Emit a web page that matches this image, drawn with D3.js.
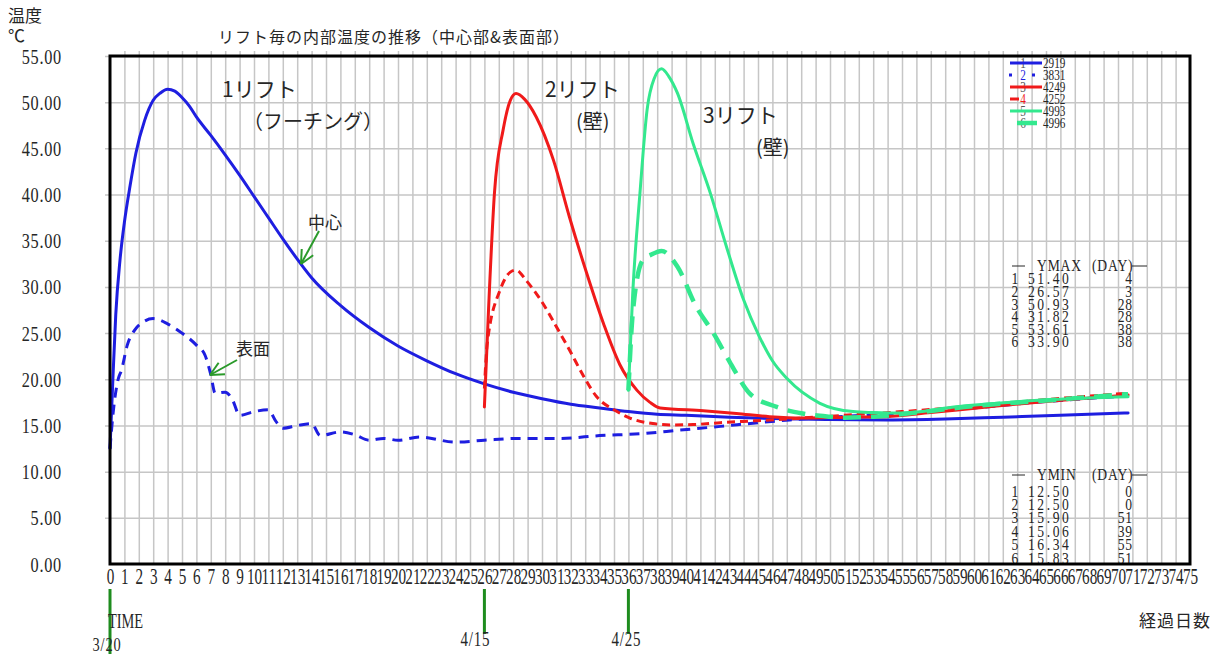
<!DOCTYPE html>
<html><head><meta charset="utf-8">
<script src="https://cdn.jsdelivr.net/npm/d3@7"></script>
<style>body{margin:0;background:#fff;} svg{display:block;}</style>
</head><body>
<svg id="chart" width="1228" height="657"></svg>
<script>
// ---------------- data ----------------
const seriesIds = ["2919","3831","4249","4252","4993","4996"];

// 1 (2919) lift-1 centre
const s1Days  = [0,0.2,0.4,0.7,1.0,1.4,1.8,2.4,3.0,3.5,4.0,4.5,5.0,5.5,6,7,8,9,10,11,12,13.2,14,16,18,20,22,24,26,28,30,32,34,36,38,40,43,46,50,54,58,62,66,70.7];
const s1Temps = [12.5,20,27,33,37,41,44.5,48,50.2,51.0,51.4,51.2,50.5,49.6,48.4,46.4,44.3,42.1,39.8,37.5,35.2,32.6,31.0,28,25.6,23.6,22,20.6,19.5,18.6,17.9,17.3,16.9,16.5,16.2,16.1,15.9,15.75,15.65,15.6,15.7,15.9,16.1,16.35];
// 2 (3831) lift-1 surface
const s2Days  = [0,0.2,0.55,0.8,1.2,1.7,2.3,3,4,5,6,6.6,7,7.3,8,8.5,9,10,11,11.5,12,13,14,14.6,16,17,18,19,20,21.5,24,26,28.5,31.25,34,36.8,39.6,42.4,45,47.2,50,55,60,65,70.7];
const s2Temps = [12.5,16.1,19.9,21,23.7,25.3,26.2,26.57,26,25,23.7,22.6,20.5,18.5,18.6,17.8,16.1,16.5,16.7,15.5,14.7,15.0,15.2,13.9,14.3,14.0,13.4,13.6,13.4,13.75,13.2,13.4,13.6,13.6,13.9,14.1,14.5,14.9,15.3,15.6,15.9,16.3,16.9,17.6,18.2];
// 3 (4249) lift-2 centre
const s3Days  = [26,26.3,26.7,27.3,27.8,28.2,28.8,29.6,30.8,31.9,33.1,34.3,35.4,36.6,37.5,38.2,41.2,43.5,45.8,48.1,51,53.9,57,60.9,65,70.7];
const s3Temps = [17.0,28,40.2,47,50.2,50.93,50.3,48.4,43.7,37.6,31.5,25.9,21.6,18.8,17.5,16.9,16.6,16.3,15.95,15.8,15.9,15.95,16.4,17.0,17.6,18.3];
// 4 (4252) lift-2 surface
const s4Days  = [26,26.2,27.1,27.8,28.2,28.9,29.9,31.25,31.9,32.9,33.8,35,36.1,37.7,39,40.5,42.4,44.7,47,50,55,60,65,70.7];
const s4Temps = [19,23.9,29.7,31.6,31.82,30.7,28.6,25,23.2,20.3,18.1,16.7,15.8,15.2,15.06,15.1,15.3,15.5,15.7,16.0,16.5,17.1,17.8,18.5];
// 5 (4993) lift-3 centre
const s5Days  = [36,36.3,36.8,37.3,37.8,38.3,38.8,39.4,40.5,41.7,42.8,44,45.1,46,47,49.3,51.6,53,55,58.6,65.5,70.7];
const s5Temps = [18.8,29.3,40.1,49.2,52.6,53.61,52.8,51,45.5,40.1,34.4,28.6,24.6,22.0,20.1,17.4,16.5,16.4,16.34,17.0,17.8,18.1];
// 6 (4996) lift-3 surface
const s6Days  = [36,36.3,37,37.6,38.3,39.4,40.7,41.9,43.1,44.4,46.3,48.1,50,51,53,56,60,65,70.7];
const s6Temps = [18.8,27.1,32.9,33.5,33.9,32.2,27.9,25,21.7,18.5,17.0,16.3,15.95,15.83,15.95,16.4,17.1,17.7,18.4];

const ymaxTemps = ["51.40","26.57","50.93","31.82","53.61","33.90"];
const ymaxDays  = ["4","3","28","28","38","38"];
const yminTemps = ["12.50","12.50","15.90","15.06","16.34","15.83"];
const yminDays  = ["0","0","51","39","55","51"];

const dayTicks  = d3.range(0, 76);
const tempTicks = d3.range(0, 56, 5);
const markDays   = [0, 26, 36];
const markLabels = ["3/20", "4/15", "4/25"];

// ---------------- drawing ----------------
const svg = d3.select("#chart");
const X0 = 110, X1 = 1190, Y0 = 564, Y1 = 56;
const x = d3.scaleLinear().domain([0, 75]).range([X0, X1]);
const y = d3.scaleLinear().domain([0, 55]).range([Y0, Y1]);
const SERIF = "'Liberation Serif','DejaVu Serif',serif";
const JP = "'Noto Sans CJK JP','Noto Sans',sans-serif";
const INK = "#262626";

function ntext(parent, px, py, str, size, anchor, sx, ls, fill) {
  const g = parent.append("g").attr("transform", `translate(${px},${py}) scale(${sx},1)`);
  g.append("text").attr("text-anchor", anchor).attr("font-family", SERIF)
    .attr("font-size", size).attr("fill", fill || INK).attr("letter-spacing", ls || 0).text(str);
  return g;
}
function jtext(px, py, str, size, anchor) {
  return svg.append("text").attr("x", px).attr("y", py).attr("font-family", JP)
    .attr("font-size", size).attr("fill", INK).attr("text-anchor", anchor || "start").text(str);
}

// grid
const gridColor = "#c6c6c6";
svg.append("g").attr("transform", `translate(0,${Y0})`)
  .call(d3.axisBottom(x).tickValues(dayTicks.filter(d => d > 0 && d < 75)).tickSize(-(Y0 - Y1 + 5)).tickFormat(""))
  .call(g => g.select(".domain").remove())
  .selectAll("line").attr("stroke", gridColor).attr("stroke-width", 1.5);
svg.append("g").attr("transform", `translate(${X0 - 5},0)`)
  .call(d3.axisRight(y).tickValues(tempTicks.filter(t => t > 0)).tickSize(X1 - X0 + 5).tickFormat(""))
  .call(g => g.select(".domain").remove())
  .selectAll("line").attr("stroke", gridColor).attr("stroke-width", 1.5);

// y tick labels
const yAx = svg.append("g").attr("transform", "translate(62,0)")
  .call(d3.axisLeft(y).tickValues(tempTicks).tickSize(0).tickPadding(0).tickFormat(d3.format(".2f")));
yAx.select(".domain").remove();
yAx.selectAll("text").attr("font-family", SERIF).attr("font-size", 22).attr("fill", INK)
  .attr("dy", 7).attr("letter-spacing", 1).attr("transform", "scale(0.74,1)");

// x tick labels
const xAx = svg.append("g").attr("transform", `translate(0,${Y0})`)
  .call(d3.axisBottom(x).tickValues(dayTicks).tickSize(0).tickPadding(0).tickFormat(d3.format("d")));
xAx.select(".domain").remove();
xAx.selectAll("text").attr("font-family", SERIF).attr("font-size", 23).attr("fill", INK)
  .attr("y", 20).attr("dy", 0).attr("transform", "scale(0.66,1)");

// tables
function table(headY, rowYs, vals, days, title) {
  svg.append("line").attr("x1", 1012).attr("x2", 1025).attr("y1", headY - 5).attr("y2", headY - 5).attr("stroke", INK).attr("stroke-width", 1);
  ntext(svg, 1037, headY, title, 16, "start", 0.85, 1);
  ntext(svg, 1092, headY, "(DAY)", 16, "start", 0.85, 1);
  svg.append("line").attr("x1", 1132).attr("x2", 1147).attr("y1", headY - 5).attr("y2", headY - 5).attr("stroke", INK).attr("stroke-width", 1);
  vals.forEach((v, i) => {
    ntext(svg, 1015, rowYs[i], String(i + 1), 16, "middle", 0.85);
    ntext(svg, 1028, rowYs[i], v, 16, "start", 0.85, 3);
    ntext(svg, 1133, rowYs[i], days[i], 16, "end", 0.85, 1);
  });
}
table(271, [284, 297, 310, 322, 335, 347], ymaxTemps, ymaxDays, "YMAX");
table(480, [497, 510, 523, 537, 550, 564], yminTemps, yminDays, "YMIN");

// series
const BLUE = "#1e1ee0", RED = "#f01a1a", GREEN = "#33e88e";
const series = [
  {id: seriesIds[0], days: s1Days, temps: s1Temps, color: BLUE,  width: 3,   dash: null,   lx1: 1010, lx2: 1042, ldash: null},
  {id: seriesIds[1], days: s2Days, temps: s2Temps, color: BLUE,  width: 3,   dash: "10,7", lx1: 1009, lx2: 1036, ldash: "3,20"},
  {id: seriesIds[2], days: s3Days, temps: s3Temps, color: RED,   width: 3,   dash: null,   lx1: 1010, lx2: 1042, ldash: null},
  {id: seriesIds[3], days: s4Days, temps: s4Temps, color: RED,   width: 3,   dash: "8,5",  lx1: 1010, lx2: 1019, ldash: null},
  {id: seriesIds[4], days: s5Days, temps: s5Temps, color: GREEN, width: 3,   dash: null,   lx1: 1010, lx2: 1042, ldash: null},
  {id: seriesIds[5], days: s6Days, temps: s6Temps, color: GREEN, width: 4.5, dash: "18,10",lx1: 1017, lx2: 1037, ldash: null}
];
const line = d3.line().x(d => x(d[0])).y(d => y(d[1])).curve(d3.curveMonotoneX);
series.forEach(s => {
  svg.append("path").datum(s.days.map((d, i) => [d, s.temps[i]]))
    .attr("d", line).attr("fill", "none").attr("stroke", s.color)
    .attr("stroke-width", s.width).attr("stroke-dasharray", s.dash)
    .attr("stroke-linejoin", "round").attr("stroke-linecap", s.dash ? "butt" : "round");
});

// legend
series.forEach((s, i) => {
  const ly = 63 + i * 12;
  ntext(svg, 1023, ly + 5, String(i + 1), 15, "middle", 0.75, 0, i === 1 || i === 3 ? s.color : "#555");
  svg.append("line").attr("x1", s.lx1).attr("x2", s.lx2).attr("y1", ly).attr("y2", ly)
    .attr("stroke", s.color).attr("stroke-width", s.width).attr("stroke-dasharray", s.ldash);
  ntext(svg, 1043, ly + 5, s.id, 15, "start", 0.75);
});

// frame
svg.append("rect").attr("x", X0).attr("y", Y1).attr("width", X1 - X0).attr("height", Y0 - Y1)
  .attr("fill", "none").attr("stroke", "#000").attr("stroke-width", 3);

// titles
jtext(8, 22, "温度", 17);
jtext(8, 42, "℃", 17);
jtext(218, 43, "リフト毎の内部温度の推移（中心部&表面部）", 16).attr("letter-spacing", 1);

// annotations
jtext(222, 97, "1リフト", 21);
jtext(243, 129, "（フーチング）", 20);
jtext(545, 97, "2リフト", 21);
jtext(576, 129, "(壁)", 20);
jtext(703, 123, "3リフト", 21);
jtext(756, 155, "(壁)", 20);
jtext(308, 229, "中心", 17);
jtext(236, 355, "表面", 17);

function arrow(xa, ya, xb, yb) {
  const ARC = "#2a9a2a";
  svg.append("line").attr("x1", xa).attr("y1", ya).attr("x2", xb).attr("y2", yb).attr("stroke", ARC).attr("stroke-width", 2);
  const ang = Math.atan2(ya - yb, xa - xb), L = 15;
  [-0.45, 0.45].forEach(da => {
    svg.append("line").attr("x1", xb).attr("y1", yb)
      .attr("x2", xb + L * Math.cos(ang + da)).attr("y2", yb + L * Math.sin(ang + da))
      .attr("stroke", ARC).attr("stroke-width", 2);
  });
}
arrow(319, 231, 301, 264);
arrow(237, 360, 210, 375);

// date markers
markDays.forEach((d, i) => {
  svg.append("line").attr("x1", x(d)).attr("x2", x(d)).attr("y1", 589).attr("y2", i === 0 ? 654 : 634)
    .attr("stroke", "#1e8c1e").attr("stroke-width", 3);
});
ntext(svg, 108, 628, "TIME", 20, "start", 0.72);
ntext(svg, x(markDays[0]) - 3, 651, markLabels[0], 18, "middle", 0.8, 1);
ntext(svg, x(markDays[1]) - 9, 646, markLabels[1], 20, "middle", 0.75, 1);
ntext(svg, x(markDays[2]) - 2, 646, markLabels[2], 20, "middle", 0.75, 1);
jtext(1139, 627, "経過日数", 17).attr("letter-spacing", 1);
</script>
</body></html>
